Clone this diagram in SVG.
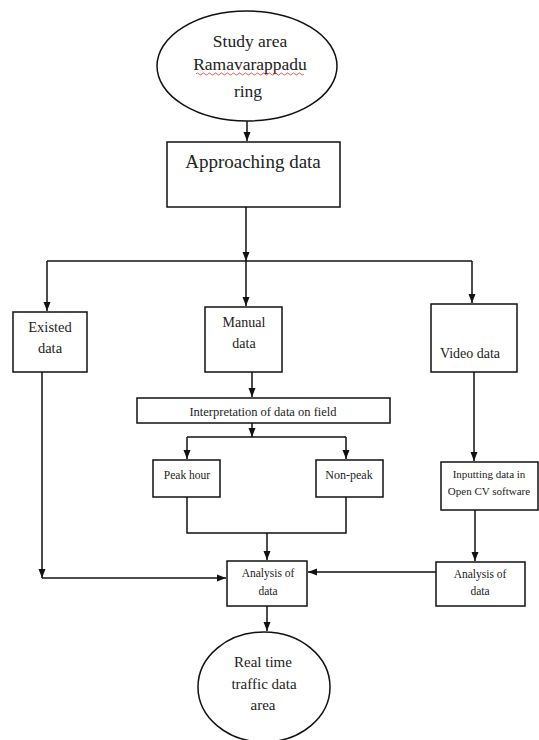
<svg xmlns="http://www.w3.org/2000/svg" width="539" height="740" viewBox="0 0 539 740">
<style>
.n{fill:#fff;stroke:#111;stroke-width:1.5}
.t{font-family:"Liberation Serif","Times New Roman",serif;fill:#222;text-anchor:middle}
.c{fill:none;stroke:#111;stroke-width:1.5}
</style>
<defs>
<marker id="ah" markerUnits="userSpaceOnUse" markerWidth="10" markerHeight="10" viewBox="0 0 10 10" refX="9" refY="5" orient="auto">
<path d="M0,1.5 L9,5 L0,8.5 Z" fill="#111"/>
</marker>
</defs>
<rect width="539" height="740" fill="#fff"/>
<g id="connectors">
<path class="c" d="M247 121 V141" marker-end="url(#ah)"/>
<path class="c" d="M246 207 V261" marker-end="url(#ah)"/>
<path class="c" d="M47 261 H472"/>
<path class="c" d="M47 261 V311" marker-end="url(#ah)"/>
<path class="c" d="M246 261 V306" marker-end="url(#ah)"/>
<path class="c" d="M472 261 V303" marker-end="url(#ah)"/>
<path class="c" d="M252 372 V397" marker-end="url(#ah)"/>
<path class="c" d="M252 423 V437" marker-end="url(#ah)"/>
<path class="c" d="M187 437 H346"/>
<path class="c" d="M187 437 V459" marker-end="url(#ah)"/>
<path class="c" d="M346 437 V459" marker-end="url(#ah)"/>
<path class="c" d="M187 497 V533 H346 V497"/>
<path class="c" d="M267 533 V560" marker-end="url(#ah)"/>
<path class="c" d="M42 372 V578" marker-end="url(#ah)"/>
<path class="c" d="M42 578 H226" marker-end="url(#ah)"/>
<path class="c" d="M474 372 V461" marker-end="url(#ah)"/>
<path class="c" d="M475 510 V561" marker-end="url(#ah)"/>
<path class="c" d="M436 572 H308" marker-end="url(#ah)"/>
<path class="c" d="M267 606 V631" marker-end="url(#ah)"/>
</g>
<g id="study-area">
<ellipse class="n" cx="247" cy="66" rx="90" ry="55"/>
<text class="t" x="250" y="47" font-size="17.5">Study area</text>
<text class="t" x="250" y="70" font-size="17.5">Ramavarappadu</text>
<path d="M196 74 q1.5 -2 3 0 t3 0 t3 0 t3 0 t3 0 t3 0 t3 0 t3 0 t3 0 t3 0 t3 0 t3 0 t3 0 t3 0 t3 0 t3 0 t3 0 t3 0 t3 0 t3 0 t3 0 t3 0 t3 0 t3 0 t3 0 t3 0 t3 0 t3 0 t3 0 t3 0 t3 0 t3 0 t3 0 t3 0 t3 0 t3 0" fill="none" stroke="#d33" stroke-width="0.8"/>
<text class="t" x="248" y="97" font-size="17.5">ring</text>
</g>
<g id="approaching">
<rect class="n" x="167" y="142" width="173" height="65"/>
<text class="t" x="253" y="168" font-size="19">Approaching data</text>
</g>
<g id="existed">
<rect class="n" x="13" y="312" width="74" height="60"/>
<text class="t" x="50" y="332" font-size="14.5">Existed</text>
<text class="t" x="50" y="353" font-size="14.5">data</text>
</g>
<g id="manual">
<rect class="n" x="205" y="307" width="77" height="65"/>
<text class="t" x="244" y="327" font-size="14">Manual</text>
<text class="t" x="244" y="348" font-size="14">data</text>
</g>
<g id="video">
<rect class="n" x="431" y="304" width="86" height="68"/>
<text class="t" x="470" y="358" font-size="14">Video data</text>
</g>
<g id="interpretation">
<rect class="n" x="137" y="398" width="253" height="25"/>
<text class="t" x="263" y="416" font-size="12.5">Interpretation of data on field</text>
</g>
<g id="peak">
<rect class="n" x="153" y="460" width="67" height="37"/>
<text class="t" x="187" y="479" font-size="11.5">Peak hour</text>
</g>
<g id="nonpeak">
<rect class="n" x="316" y="460" width="67" height="37"/>
<text class="t" x="349" y="479" font-size="12">Non-peak</text>
</g>
<g id="inputting">
<rect class="n" x="441" y="462" width="97" height="48"/>
<text class="t" x="489" y="478" font-size="11">Inputting data in</text>
<text class="t" x="489" y="495" font-size="11">Open CV software</text>
</g>
<g id="analysis-main">
<rect class="n" x="227" y="561" width="80" height="45"/>
<text class="t" x="268" y="577" font-size="11.5">Analysis of</text>
<text class="t" x="268" y="595" font-size="11.5">data</text>
</g>
<g id="analysis-video">
<rect class="n" x="436" y="562" width="89" height="44"/>
<text class="t" x="480" y="578" font-size="11.5">Analysis of</text>
<text class="t" x="480" y="595" font-size="11.5">data</text>
</g>
<g id="real-time">
<ellipse class="n" cx="264" cy="687" rx="66" ry="55"/>
<text class="t" x="263" y="667" font-size="15">Real time</text>
<text class="t" x="264" y="689" font-size="15">traffic data</text>
<text class="t" x="263" y="710" font-size="15">area</text>
</g>
</svg>
